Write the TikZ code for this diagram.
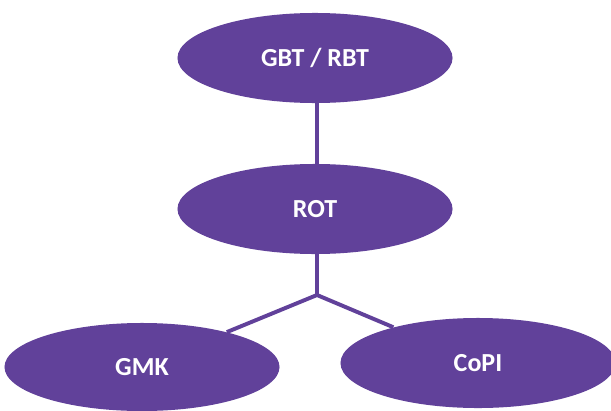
\documentclass[tikz,border=0pt]{standalone}
\usepackage{fontspec}
\setmainfont{Carlito}
\usepackage{tikz}
\usetikzlibrary{shapes.geometric,positioning}
\definecolor{orgpurple}{HTML}{61419A}
\tikzset{
  orgnode/.style={ellipse, draw=none, fill=orgpurple, inner sep=0pt,
    minimum width=6.875cm, minimum height=2.25cm,
    text=white, font=\fontsize{18.5}{22}\selectfont\bfseries},
  orgline/.style={draw=orgpurple, line width=2.8pt}
}
\begin{document}
\begin{tikzpicture}[x=0.025cm,y=0.025cm]
  \useasboundingbox (0,0) rectangle (611,410);
  \node[orgnode] (gbt) at (315,352) {GBT / RBT};
  \node[orgnode] (rot) at (315,201) {ROT};
  \node[orgnode, minimum height=2.2cm] (gmk) at (142,43) {GMK};
  \node[orgnode] (copi) at (478,47) {CoPI};
  \coordinate (split) at (317,115);
  \draw[orgline] (gbt.south -| split) -- (rot.north -| split);
  \draw[orgline] (rot.south -| split) -- (split);
  \draw[orgline] (split) -- (gmk);
  \draw[orgline] (split) -- (copi);
\end{tikzpicture}
\end{document}
